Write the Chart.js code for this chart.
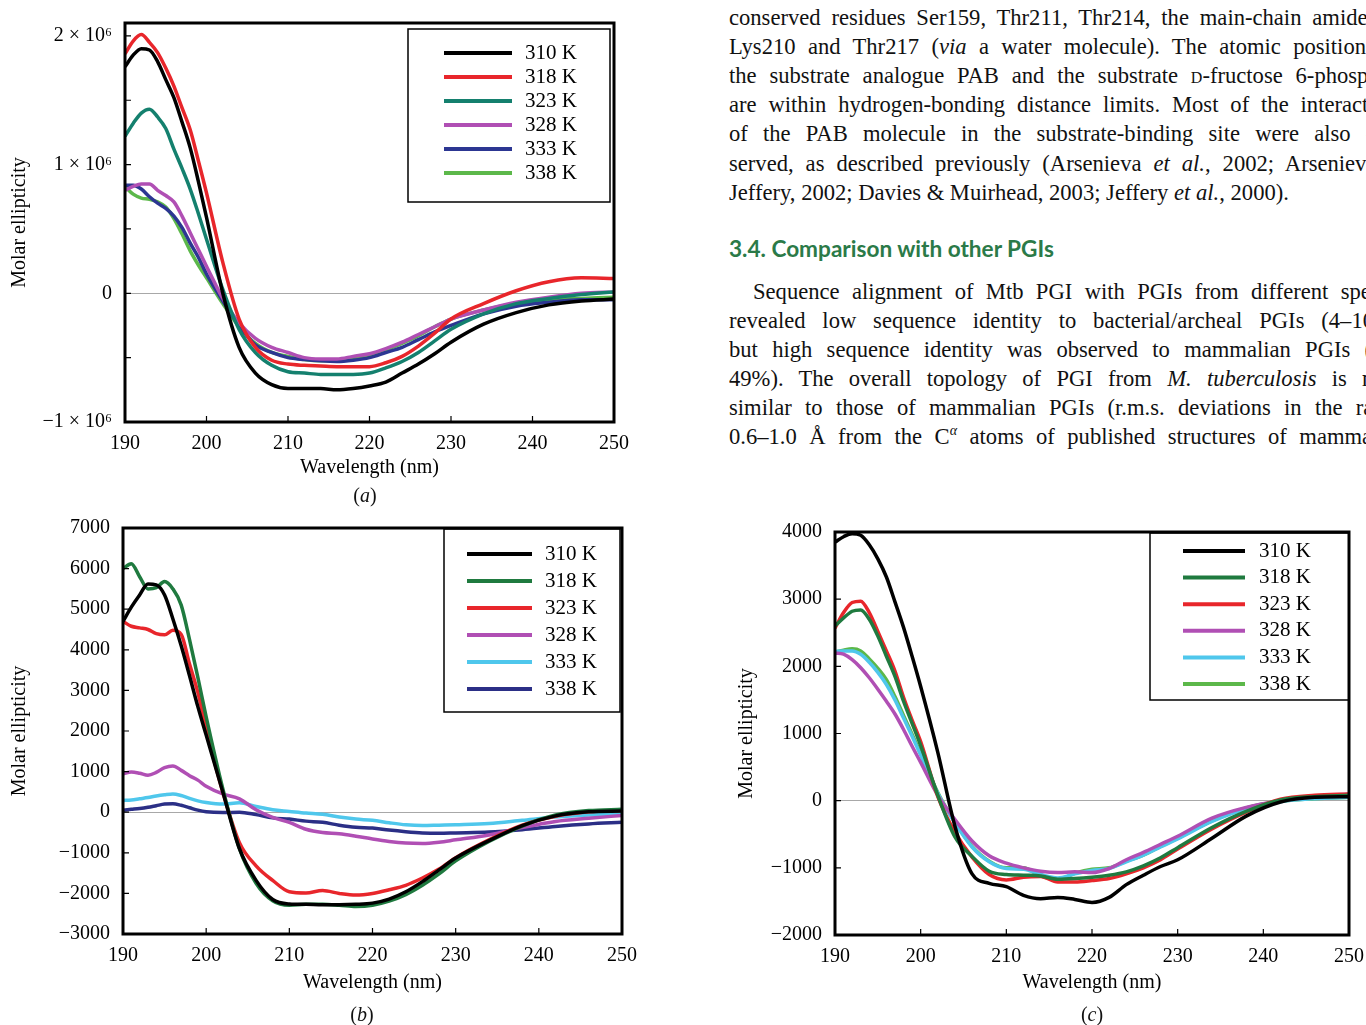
<!DOCTYPE html>
<html>
<head>
<meta charset="utf-8">
<script src="https://cdn.jsdelivr.net/npm/chart.js@4.4.1/dist/chart.umd.min.js"></script>
<style>
  body { margin: 0; width: 1366px; height: 1025px; overflow: hidden; background: #fff; position: relative; font-family: "Liberation Serif", serif; color: #111; }
  canvas { position: absolute; }
  .ln { position: absolute; left: 729px; width: 677px; height: 29px; overflow: hidden; font-size: 22.6px; line-height: 29px; text-align: justify; text-align-last: justify; }
  .last { text-align-last: left; }
  .ind { text-indent: 24px; }
  .sc { font-variant: small-caps; }
  h3 { position: absolute; left: 729px; top: 235px; margin: 0; font: bold 22.6px Lato, sans-serif; color: #2b7a48; }
  .cap { position: absolute; width: 60px; text-align: center; font-size: 20px; }
</style>
</head>
<body>
<div class="ln" style="top:3px">conserved residues Ser159, Thr211, Thr214, the main-chain amides of</div>
<div class="ln" style="top:32px">Lys210 and Thr217 (<i>via</i> a water molecule). The atomic positions of</div>
<div class="ln" style="top:61px">the substrate analogue PAB and the substrate <span class="sc">d</span>-fructose 6-phosphate</div>
<div class="ln" style="top:90px">are within hydrogen-bonding distance limits. Most of the interactions</div>
<div class="ln" style="top:119px">of the PAB molecule in the substrate-binding site were also con-</div>
<div class="ln" style="top:149px">served, as described previously (Arsenieva <i>et al.</i>, 2002; Arsenieva &amp;</div>
<div class="ln last" style="top:178px">Jeffery, 2002; Davies &amp; Muirhead, 2003; Jeffery <i>et al.</i>, 2000).</div>
<h3>3.4. Comparison with other PGIs</h3>
<div class="ln ind" style="top:277px">Sequence alignment of Mtb PGI with PGIs from different species</div>
<div class="ln" style="top:306px">revealed low sequence identity to bacterial/archeal PGIs (4–10%),</div>
<div class="ln" style="top:335px">but high sequence identity was observed to mammalian PGIs (46–</div>
<div class="ln" style="top:364px">49%). The overall topology of PGI from <i>M. tuberculosis</i> is most</div>
<div class="ln" style="top:393px">similar to those of mammalian PGIs (r.m.s. deviations in the range</div>
<div class="ln" style="top:422px">0.6–1.0 Å from the C<sup style="font-size:14px;line-height:0"><i>α</i></sup> atoms of published structures of mammalian</div>

<canvas id="chartA" width="640" height="510" style="left:0;top:0"></canvas>
<canvas id="chartB" width="640" height="515" style="left:0;top:510px"></canvas>
<canvas id="chartC" width="636" height="515" style="left:730px;top:510px"></canvas>
<div class="cap" style="left:335px;top:484px">(<i>a</i>)</div>
<div class="cap" style="left:332px;top:1003px">(<i>b</i>)</div>
<div class="cap" style="left:1062px;top:1003px">(<i>c</i>)</div>

<script>
// wavelengths (nm) shared by all three panels
const wavelengths = [190, 191, 192, 193, 194, 195, 196, 197, 198, 199, 200,
  202, 204, 206, 208, 210, 212, 214, 216, 218, 220, 222, 224, 226, 228, 230,
  234, 238, 242, 246, 250];
const temps = ['310 K', '318 K', '323 K', '328 K', '333 K', '338 K'];
const xTicks = [190, 200, 210, 220, 230, 240, 250];

// (a) molar ellipticity, in units of 10^6
const a310 = [1.76, 1.85, 1.90, 1.89, 1.80, 1.66, 1.52, 1.33, 1.13, 0.87, 0.59,
  0.0, -0.42, -0.62, -0.71, -0.74, -0.74, -0.74, -0.75, -0.74, -0.72, -0.69, -0.62, -0.55, -0.47, -0.38,
  -0.24, -0.15, -0.09, -0.06, -0.045];
const a318 = [1.86, 1.96, 2.01, 1.95, 1.87, 1.75, 1.61, 1.44, 1.27, 1.03, 0.78,
  0.24, -0.20, -0.42, -0.52, -0.55, -0.56, -0.565, -0.57, -0.57, -0.57, -0.54, -0.49, -0.41, -0.31, -0.20,
  -0.08, 0.02, 0.09, 0.12, 0.115];
const a323 = [1.22, 1.32, 1.40, 1.43, 1.37, 1.28, 1.12, 0.97, 0.81, 0.62, 0.42,
  0.03, -0.28, -0.46, -0.56, -0.61, -0.62, -0.63, -0.63, -0.63, -0.62, -0.58, -0.53, -0.46, -0.37, -0.28,
  -0.16, -0.08, -0.04, -0.01, 0.01];
const a328 = [0.80, 0.83, 0.85, 0.85, 0.80, 0.76, 0.71, 0.60, 0.47, 0.34, 0.21,
  -0.04, -0.23, -0.35, -0.42, -0.46, -0.50, -0.51, -0.51, -0.49, -0.47, -0.43, -0.38, -0.32, -0.26, -0.20,
  -0.13, -0.07, -0.03, 0.0, 0.01];
const a333 = [0.84, 0.84, 0.81, 0.75, 0.70, 0.66, 0.60, 0.51, 0.39, 0.28, 0.15,
  -0.06, -0.25, -0.40, -0.46, -0.50, -0.515, -0.525, -0.53, -0.52, -0.50, -0.46, -0.42, -0.36, -0.30, -0.25,
  -0.16, -0.10, -0.07, -0.05, -0.05];
const a338 = [0.83, 0.77, 0.74, 0.73, 0.71, 0.67, 0.58, 0.46, 0.33, 0.22, 0.12,
  -0.08, -0.26, -0.39, -0.46, -0.49, -0.515, -0.525, -0.52, -0.50, -0.485, -0.44, -0.39, -0.33, -0.26, -0.20,
  -0.13, -0.08, -0.05, -0.04, -0.03];
const aTicks = [-1, -0.5, 0, 0.5, 1, 1.5, 2];
const aTickValues = [-1, 0, 1, 2];
const aTickLabels = ['−1 × 10⁶', '0', '1 × 10⁶', '2 × 10⁶'];

// (b)
const b310 = [4700, 5050, 5350, 5620, 5600, 5350, 4760, 4100, 3360, 2600, 1900,
  500, -900, -1680, -2150, -2260, -2270, -2280, -2280, -2270, -2240, -2140, -1960, -1710, -1420, -1130,
  -700, -330, -90, 10, 30];
const b318 = [6000, 6120, 5800, 5500, 5530, 5680, 5500, 5100, 4250, 3320, 2350,
  580, -900, -1750, -2180, -2290, -2270, -2270, -2290, -2320, -2290, -2190, -2030, -1800, -1520, -1200,
  -720, -340, -70, 40, 70];
const b323 = [4700, 4580, 4540, 4500, 4400, 4370, 4480, 4380, 3650, 2950, 2050,
  500, -750, -1320, -1680, -1960, -1990, -1930, -2000, -2040, -2000, -1910, -1800, -1620, -1400, -1120,
  -680, -320, -100, 10, 40];
const b328 = [950, 990, 960, 910, 980, 1100, 1140, 1030, 900, 790, 640,
  450, 330, 60, -130, -250, -420, -500, -530, -590, -660, -720, -760, -770, -740, -680,
  -560, -380, -230, -150, -80];
const b333 = [290, 300, 330, 360, 400, 430, 450, 410, 340, 280, 240,
  200, 230, 140, 60, 20, -20, -50, -120, -170, -200, -260, -310, -330, -320, -310,
  -280, -200, -120, -70, -40];
const b338 = [50, 70, 90, 120, 160, 200, 210, 170, 110, 50, 10,
  -10, 0, -60, -140, -170, -220, -250, -320, -370, -390, -440, -480, -510, -520, -510,
  -490, -430, -350, -290, -250];
const bTicks = [-3000, -2000, -1000, 0, 1000, 2000, 3000, 4000, 5000, 6000, 7000];

// (c)
const c310 = [3850, 3930, 3975, 3950, 3810, 3600, 3330, 2960, 2580, 2150, 1700,
  720, -380, -1090, -1230, -1280, -1410, -1460, -1440, -1470, -1515, -1440, -1250, -1110, -980, -880,
  -560, -230, -20, 50, 60];
const c318 = [2600, 2720, 2820, 2840, 2700, 2450, 2150, 1850, 1480, 1150, 820,
  80, -540, -830, -1050, -1100, -1110, -1120, -1170, -1160, -1140, -1110, -1060, -970, -850, -700,
  -400, -160, 10, 60, 80];
const c323 = [2570, 2800, 2950, 2970, 2800, 2520, 2230, 1930, 1540, 1200, 880,
  60, -470, -840, -1100, -1180, -1140, -1130, -1210, -1210, -1190, -1160, -1090, -1000, -880, -720,
  -420, -170, 20, 80, 100];
const c328 = [2200, 2180, 2100, 1980, 1830, 1660, 1480, 1290, 1060, 810, 570,
  80, -280, -600, -820, -930, -1000, -1050, -1070, -1060, -1070, -1010, -880, -770, -650, -530,
  -260, -100, 0, 60, 100];
const c333 = [2220, 2230, 2230, 2180, 2060, 1910, 1730, 1500, 1230, 960, 680,
  110, -330, -690, -910, -1010, -1020, -1100, -1150, -1090, -1040, -1010, -910, -810, -690, -570,
  -310, -120, -15, 30, 50];
const c338 = [2210, 2240, 2260, 2230, 2110, 1970, 1800, 1550, 1270, 990, 700,
  120, -320, -680, -900, -1000, -1000, -1120, -1180, -1080, -1020, -1000, -900, -810, -680, -560,
  -300, -110, -10, 30, 50];
const cTicks = [-2000, -1000, 0, 1000, 2000, 3000, 4000];

const colorsA = ['#000000', '#e8262b', '#14806e', '#b04fb4', '#2c3692', '#5cb84a'];
const colorsB = ['#000000', '#1f7a3f', '#e8262b', '#b04fb4', '#4fc7ec', '#2b2f86'];
const colorsC = ['#000000', '#1f7a3f', '#e8262b', '#b04fb4', '#4fc7ec', '#5cb84a'];

const serif = '"Liberation Serif", "Times New Roman", serif';
const minus = v => String(v).replace('-', '−');

// frame, inward tick marks and boxed legend
const framePlugin = {
  id: 'frame',
  afterDatasetsDraw(chart, args, o) {
    const { ctx, chartArea: a } = chart;
    const sx = chart.scales.x, sy = chart.scales.y;
    ctx.save();
    ctx.strokeStyle = '#000';
    ctx.lineWidth = 1.2;
    ctx.beginPath();
    sx.ticks.forEach(t => {
      const p = sx.getPixelForValue(t.value);
      ctx.moveTo(p, a.bottom); ctx.lineTo(p, a.bottom - 6);
    });
    sy.ticks.forEach(t => {
      const p = sy.getPixelForValue(t.value);
      ctx.moveTo(a.left, p); ctx.lineTo(a.left + 6, p);
    });
    ctx.stroke();

    ctx.fillStyle = '#fff';
    ctx.fillRect(o.x, o.y, o.w, o.h);
    ctx.lineWidth = 1.5;
    ctx.strokeRect(o.x, o.y, o.w, o.h);
    ctx.font = '21px ' + serif;
    ctx.textBaseline = 'middle';
    chart.data.datasets.forEach((d, i) => {
      const yy = o.row0 + i * o.gap;
      ctx.strokeStyle = d.borderColor;
      ctx.lineWidth = 4;
      ctx.beginPath(); ctx.moveTo(o.l0, yy); ctx.lineTo(o.l1, yy); ctx.stroke();
      ctx.fillStyle = '#000';
      ctx.fillText(d.label, o.tx, yy);
    });

    ctx.strokeStyle = '#000';
    ctx.lineWidth = 3;
    ctx.strokeRect(a.left, a.top, a.width, a.height);
    ctx.restore();
  }
};

function noPad(s) {
  s.paddingTop = 0; s.paddingBottom = 0; s.paddingLeft = 0; s.paddingRight = 0;
}

function makeChart(id, series, colors, y, g) {
  const datasets = series.map((vals, i) => ({
    label: temps[i],
    data: wavelengths.map((w, j) => ({ x: w, y: vals[j] })),
    borderColor: colors[i],
    borderWidth: 3.5,
    pointRadius: 0,
    cubicInterpolationMode: 'monotone',
    fill: false
  }));
  return new Chart(document.getElementById(id), {
    type: 'line',
    data: { datasets },
    options: {
      responsive: false,
      animation: false,
      devicePixelRatio: 1,
      layout: { padding: g.pad },
      plugins: { legend: { display: false }, tooltip: { enabled: false }, frame: g.legend },
      scales: {
        x: {
          type: 'linear', min: 190, max: 250,
          afterBuildTicks: s => { s.ticks = xTicks.map(v => ({ value: v })); },
          afterFit: s => { s.height = g.xh; noPad(s); },
          grid: { display: false },
          border: { display: false },
          ticks: { padding: 2, color: '#000', font: { family: serif, size: 20 }, maxRotation: 0, autoSkip: false },
          title: { display: true, text: 'Wavelength (nm)', color: '#000', font: { family: serif, size: 20 }, padding: { top: 4, bottom: 4 } }
        },
        y: {
          type: 'linear', min: y.min, max: y.max,
          afterBuildTicks: s => { s.ticks = y.ticks.map(v => ({ value: v })); },
          afterFit: s => { s.width = g.yw; noPad(s); },
          grid: { drawTicks: false, lineWidth: 1, color: c => (c.tick && c.tick.value === 0 ? '#a8a8a8' : 'rgba(0,0,0,0)') },
          border: { display: false },
          ticks: { padding: 13, color: '#000', font: { family: serif, size: 20 }, autoSkip: false, callback: y.fmt },
          title: { display: true, text: 'Molar ellipticity', color: '#000', font: { family: serif, size: 20 }, padding: { top: g.ytp, bottom: 0 } }
        }
      }
    },
    plugins: [framePlugin]
  });
}

makeChart('chartA', [a310, a318, a323, a328, a333, a338], colorsA,
  { min: -1, max: 2.1, ticks: aTicks, fmt: v => { const i = aTickValues.indexOf(v); return i >= 0 ? aTickLabels[i] : ''; } },
  { pad: { top: 23, right: 26, left: 0, bottom: 26 }, xh: 62, yw: 125, ytp: 8,
    legend: { x: 408, y: 29, w: 202, h: 173, l0: 444, l1: 512, tx: 525, row0: 53, gap: 24 } });

makeChart('chartB', [b310, b318, b323, b328, b333, b338], colorsB,
  { min: -3000, max: 7000, ticks: bTicks, fmt: minus },
  { pad: { top: 18, right: 18, left: 0, bottom: 26 }, xh: 65, yw: 123, ytp: 8,
    legend: { x: 444, y: 19, w: 176, h: 183, l0: 467, l1: 532, tx: 545, row0: 44, gap: 27 } });

makeChart('chartC', [c310, c318, c323, c328, c333, c338], colorsC,
  { min: -2000, max: 4000, ticks: cTicks, fmt: minus },
  { pad: { top: 22, right: 17, left: 0, bottom: 26 }, xh: 64, yw: 105, ytp: 5,
    legend: { x: 420, y: 23, w: 199, h: 167, l0: 453, l1: 515, tx: 529, row0: 41, gap: 26.6 } });
</script>
</body>
</html>
